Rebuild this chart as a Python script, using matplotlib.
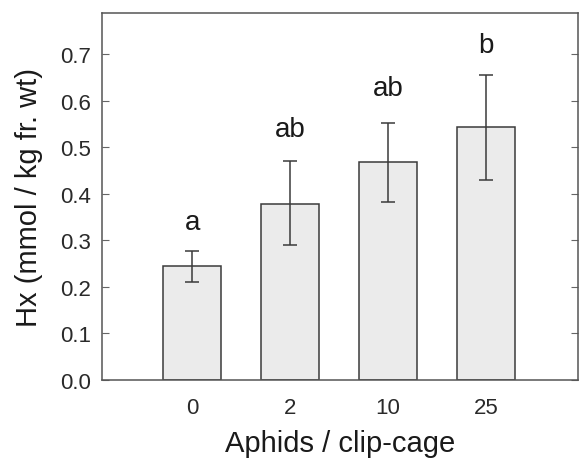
import matplotlib
matplotlib.use("Agg")
import matplotlib.pyplot as plt
import numpy as np

plt.rcParams['font.family'] = ['Liberation Sans', 'DejaVu Sans']

categories = ["0", "2", "10", "25"]
means = [0.245, 0.378, 0.468, 0.543]
err_low = [0.210, 0.290, 0.382, 0.430]
err_high = [0.277, 0.470, 0.552, 0.655]
letters = ["a", "ab", "ab", "b"]
letter_y = [0.339, 0.538, 0.628, 0.720]

fig = plt.figure(figsize=(5.79, 4.60), dpi=100)
ax = fig.add_axes([102/579, 1-381/460, 476/579, 367/460])

x = np.arange(len(categories))
yerr = [np.array(means) - np.array(err_low), np.array(err_high) - np.array(means)]
ax.bar(x, means, width=0.6, color='#ebebeb', edgecolor='#3a3a3a', linewidth=1.1, zorder=2)
ax.errorbar(x, means, yerr=yerr, fmt='none', ecolor='#3a3a3a', elinewidth=1.1,
            capsize=5, capthick=1.1, zorder=3)
for xi, t, ty in zip(x, letters, letter_y):
    ax.text(xi, ty, t, ha='center', va='center', fontsize=20, color='#1a1a1a')

ax.set_xlim(-0.92, 3.94)
ax.set_ylim(0, 0.788)
ax.set_yticks(np.arange(0, 0.71, 0.1))
ax.set_yticklabels([f"{v:.1f}" for v in np.arange(0, 0.71, 0.1)])
ax.set_xticks(x)
ax.set_xticklabels(categories)
ax.tick_params(axis='y', direction='in', length=5, width=0.8, color='#666666',
               labelsize=16, labelcolor='#2a2a2a', pad=8, right=True)
ax.tick_params(axis='x', length=0, labelsize=16, labelcolor='#2a2a2a', pad=12)
for s in ax.spines.values():
    s.set_color('#555555')
    s.set_linewidth(1.1)
ax.set_xlabel("Aphids / clip-cage", fontsize=21, color='#1a1a1a', labelpad=8)
ax.set_ylabel("Hx (mmol / kg fr. wt)", fontsize=21, color='#1a1a1a', labelpad=12)

fig.savefig("out.png", dpi=100)
